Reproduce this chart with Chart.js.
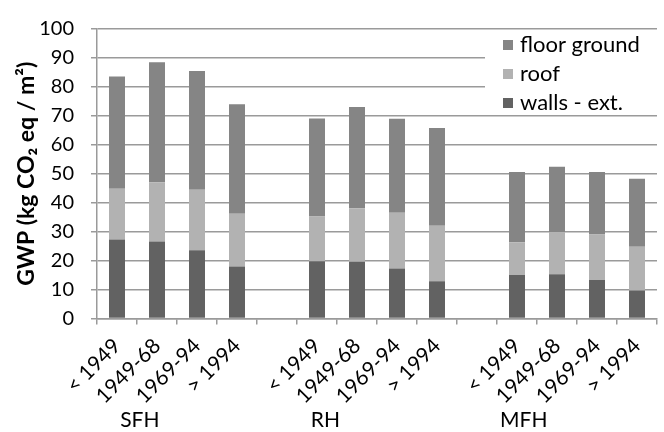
<!DOCTYPE html>
<html>
<head>
<meta charset="utf-8">
<script src="https://cdn.jsdelivr.net/npm/chart.js@4.4.1/dist/chart.umd.min.js"></script>
<style>
  html, body { margin: 0; padding: 0; background: #fff; }
  #wrap { width: 664px; height: 432px; position: relative; }
</style>
</head>
<body>
<div id="wrap"><canvas id="gwpChart"></canvas></div>
<script>
// Categorias (los huecos separan los grupos SFH / RH / MFH)
const periods = ['< 1949', '1949-68', '1969-94', '> 1994', '',
                 '< 1949', '1949-68', '1969-94', '> 1994', '',
                 '< 1949', '1949-68', '1969-94', '> 1994'];
const groupNames = ['SFH', 'RH', 'MFH'];
const groupAt = [0.57, 5.21, 10.17]; // posicion en unidades de categoria

// Valores (kg CO2 eq / m2)
const walls = [27.3, 26.6, 23.6, 18.0, null, 19.8, 19.6, 17.3, 12.9, null, 15.0, 15.3, 13.3, 9.7];
const roof = [17.5, 20.5, 20.9, 18.2, null, 15.4, 18.5, 19.2, 19.1, null, 11.3, 14.5, 15.7, 15.1];
const floorGround = [38.8, 41.4, 41.0, 37.8, null, 33.9, 35.0, 32.5, 33.8, null, 24.3, 22.6, 21.6, 23.5];

const yMax = 100;
const yStep = 10;

const FONT = 'Lato';
const GRID = '#9a9a9a';

// Leyenda dentro del area del grafico (arriba a la derecha)
const innerLegend = {
    id: 'innerLegend',
    beforeDatasetsDraw(chart) {
        const ctx = chart.ctx;
        const y = chart.scales.y;
        const area = chart.chartArea;
        ctx.save();
        ctx.fillStyle = '#fff';
        ctx.fillRect(485, y.getPixelForValue(99), area.right - 485 + 2, y.getPixelForValue(71) - y.getPixelForValue(99));
        const items = chart.data.datasets.slice().reverse();
        ctx.font = '22px ' + FONT;
        ctx.textBaseline = 'middle';
        items.forEach((ds, i) => {
            const cy = area.top + 16 + i * 29;
            ctx.fillStyle = ds.backgroundColor;
            ctx.fillRect(503, cy - 5, 10, 10);
            ctx.fillStyle = '#000';
            ctx.fillText(ds.label, 520, cy);
        });
        ctx.restore();
    }
};

// Etiquetas de grupo bajo el eje X
const groupLabels = {
    id: 'groupLabels',
    afterDraw(chart) {
        const ctx = chart.ctx;
        const x = chart.scales.x;
        ctx.save();
        ctx.font = '21px ' + FONT;
        ctx.fillStyle = '#000';
        ctx.textAlign = 'center';
        ctx.textBaseline = 'middle';
        groupNames.forEach((g, i) => ctx.fillText(g, x.getPixelForValue(groupAt[i]), 420));
        ctx.restore();
    }
};

const ctx = document.getElementById('gwpChart').getContext('2d');
const chart = new Chart(ctx, {
    type: 'bar',
    data: {
        labels: periods,
        datasets: [
            { label: 'walls - ext.', data: walls, backgroundColor: '#626262' },
            { label: 'roof', data: roof, backgroundColor: '#b2b2b2' },
            { label: 'floor ground', data: floorGround, backgroundColor: '#858585' }
        ]
    },
    options: {
        responsive: true,
        maintainAspectRatio: false,
        animation: false,
        datasets: { bar: { barPercentage: 0.4, categoryPercentage: 1.0 } },
        layout: { padding: { top: 18, right: 5, bottom: 0, left: 0 } },
        plugins: {
            legend: { display: false },
            tooltip: { enabled: false }
        },
        scales: {
            x: {
                stacked: true,
                afterFit: (s) => { s.height = 113.5; },
                border: { color: GRID, width: 1.5 },
                grid: { display: true, drawOnChartArea: false, drawTicks: true, tickLength: 6, color: GRID, lineWidth: 1.5, offset: true },
                ticks: { autoSkip: false, minRotation: 45, maxRotation: 45, color: '#000', padding: 9, font: { family: FONT, size: 21 } }
            },
            y: {
                stacked: true,
                min: 0,
                max: yMax,
                afterFit: (s) => { s.width = 97; },
                border: { color: GRID, width: 1.5 },
                grid: { color: GRID, lineWidth: 1.5, tickLength: 6 },
                ticks: { stepSize: yStep, color: '#000', padding: 17, font: { family: FONT, size: 20 } },
                title: {
                    display: true,
                    text: 'GWP (kg CO₂ eq / m²)',
                    color: '#000',
                    padding: { top: 13, bottom: 0 },
                    font: { family: FONT, size: 23, weight: 'bold' }
                }
            }
        }
    },
    plugins: [innerLegend, groupLabels]
});
</script>
</body>
</html>
